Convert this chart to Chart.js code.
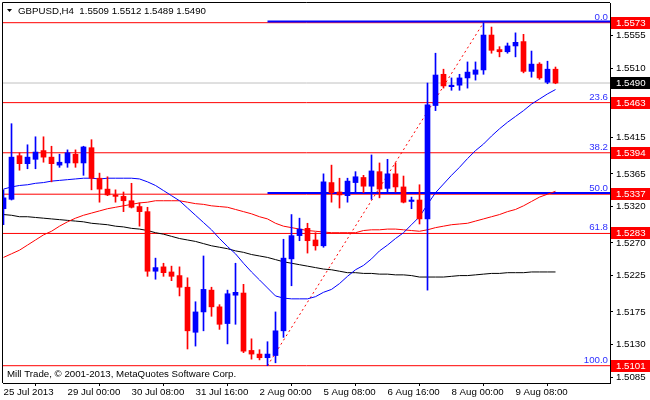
<!DOCTYPE html>
<html><head><meta charset="utf-8">
<script src="https://cdn.jsdelivr.net/npm/chart.js@4/dist/chart.umd.min.js"></script>
<style>html,body{margin:0;padding:0;background:#fff}#wrap{width:650px;height:400px;position:relative}</style>
</head><body><div id="wrap"><canvas id="c"></canvas></div>
<script>
// ---- data (GBPUSD, H4) ----
const barTimes = [
 '25 Jul 16:00','25 Jul 20:00',
 '26 Jul 00:00','26 Jul 04:00','26 Jul 08:00','26 Jul 12:00','26 Jul 16:00','26 Jul 20:00',
 '29 Jul 00:00','29 Jul 04:00','29 Jul 08:00','29 Jul 12:00','29 Jul 16:00','29 Jul 20:00',
 '30 Jul 00:00','30 Jul 04:00','30 Jul 08:00','30 Jul 12:00','30 Jul 16:00','30 Jul 20:00',
 '31 Jul 00:00','31 Jul 04:00','31 Jul 08:00','31 Jul 12:00','31 Jul 16:00','31 Jul 20:00',
 '1 Aug 00:00','1 Aug 04:00','1 Aug 08:00','1 Aug 12:00','1 Aug 16:00','1 Aug 20:00',
 '2 Aug 00:00','2 Aug 04:00','2 Aug 08:00','2 Aug 12:00','2 Aug 16:00','2 Aug 20:00',
 '5 Aug 00:00','5 Aug 04:00','5 Aug 08:00','5 Aug 12:00','5 Aug 16:00','5 Aug 20:00',
 '6 Aug 00:00','6 Aug 04:00','6 Aug 08:00','6 Aug 12:00','6 Aug 16:00','6 Aug 20:00',
 '7 Aug 00:00','7 Aug 04:00','7 Aug 08:00','7 Aug 12:00','7 Aug 16:00','7 Aug 20:00',
 '8 Aug 00:00','8 Aug 04:00','8 Aug 08:00','8 Aug 12:00','8 Aug 16:00','8 Aug 20:00',
 '9 Aug 00:00','9 Aug 04:00','9 Aug 08:00','9 Aug 12:00','9 Aug 16:00','9 Aug 20:00',
 '12 Aug 00:00','12 Aug 04:00'];

const openP = [1.5317,1.5330,1.5390,1.5379,1.5385,1.5397,1.5388,1.5377,1.5380,1.5392,
 1.5380,1.5401,1.5359,1.5344,1.5336,1.5334,1.5328,1.5320,1.5313,1.5231,
 1.5237,1.5230,1.5225,1.5209,1.5147,1.5175,1.5205,1.5182,1.5159,1.5198,
 1.5201,1.5122,1.5117,1.5112,1.5115,1.5149,1.5248,1.5280,1.5290,1.5274,
 1.5266,1.5353,1.5340,1.5335,1.5353,1.5360,1.5348,1.5368,1.5345,1.5365,
 1.5347,1.5327,1.5329,1.5303,1.5459,1.5502,1.5485,1.5487,1.5497,1.5502,
 1.5508,1.5556,1.5536,1.5533,1.5541,1.5547,1.5506,1.5516,1.5491,1.5509];
const highP = [1.5343,1.5434,1.5394,1.5405,1.5416,1.5416,1.5403,1.5392,1.5398,1.5398,
 1.5403,1.5412,1.5366,1.5361,1.5343,1.5340,1.5352,1.5325,1.5319,1.5249,
 1.5242,1.5238,1.5237,1.5222,1.5189,1.5252,1.5209,1.5185,1.5205,1.5242,
 1.5213,1.5138,1.5123,1.5134,1.5175,1.5275,1.5309,1.5304,1.5297,1.5284,
 1.5365,1.5377,1.5359,1.5359,1.5368,1.5363,1.5391,1.5380,1.5385,1.5380,
 1.5362,1.5333,1.5350,1.5490,1.5531,1.5509,1.5497,1.5502,1.5519,1.5519,
 1.5573,1.5567,1.5540,1.5545,1.5559,1.5557,1.5534,1.5518,1.5520,1.5512];
const lowP = [1.5295,1.5329,1.5370,1.5372,1.5372,1.5381,1.5354,1.5374,1.5374,1.5374,
 1.5363,1.5343,1.5326,1.5335,1.5326,1.5313,1.5318,1.5293,1.5224,1.5220,
 1.5224,1.5218,1.5197,1.5124,1.5128,1.5149,1.5169,1.5151,1.5131,1.5158,
 1.5119,1.5110,1.5109,1.5101,1.5105,1.5140,1.5211,1.5273,1.5256,1.5260,
 1.5264,1.5326,1.5318,1.5326,1.5340,1.5339,1.5330,1.5332,1.5340,1.5340,
 1.5325,1.5317,1.5296,1.5205,1.5452,1.5483,1.5480,1.5480,1.5483,1.5494,
 1.5502,1.5531,1.5526,1.5531,1.5526,1.5504,1.5498,1.5495,1.5489,1.5489];
const closeP = [1.5332,1.5388,1.5379,1.5388,1.5395,1.5388,1.5379,1.5381,1.5394,1.5380,
 1.5402,1.5359,1.5344,1.5336,1.5334,1.5328,1.5319,1.5313,1.5231,1.5236,
 1.5229,1.5224,1.5209,1.5149,1.5175,1.5206,1.5182,1.5158,1.5200,1.5202,
 1.5121,1.5117,1.5112,1.5117,1.5149,1.5249,1.5280,1.5289,1.5273,1.5266,
 1.5354,1.5339,1.5336,1.5355,1.5361,1.5348,1.5369,1.5344,1.5365,1.5347,
 1.5326,1.5329,1.5303,1.5460,1.5501,1.5486,1.5487,1.5497,1.5505,1.5508,
 1.5556,1.5535,1.5533,1.5541,1.5546,1.5506,1.5516,1.5497,1.5509,1.5490];

const maBlue = [1.5344,1.5347,1.5349,1.5350,1.5352,1.5353,1.5355,1.5356,1.5357,1.5358,
 1.5359,1.5359,1.5358,1.5359,1.5359,1.5359,1.5359,1.5358,1.5354,1.5349,
 1.5342,1.5335,1.5328,1.5318,1.5308,1.5298,1.5288,1.5276,1.5265,1.5255,
 1.5242,1.5230,1.5219,1.5208,1.5197,1.5194,1.5193,1.5193,1.5193,1.5196,
 1.5202,1.5206,1.5214,1.5224,1.5233,1.5239,1.5248,1.5259,1.5267,1.5276,
 1.5284,1.5295,1.5306,1.5323,1.5339,1.5351,1.5363,1.5374,1.5386,1.5397,
 1.5406,1.5417,1.5427,1.5436,1.5444,1.5452,1.5461,1.5468,1.5475,1.5481];
const maRed = [1.5250,1.5255,1.5260,1.5267,1.5274,1.5281,1.5286,1.5293,1.5299,1.5304,
 1.5308,1.5311,1.5314,1.5317,1.5319,1.5321,1.5323,1.5325,1.5326,1.5328,
 1.5328,1.5328,1.5328,1.5326,1.5324,1.5323,1.5321,1.5320,1.5319,1.5316,
 1.5313,1.5310,1.5306,1.5303,1.5297,1.5293,1.5291,1.5289,1.5287,1.5286,
 1.5285,1.5284,1.5284,1.5284,1.5284,1.5287,1.5288,1.5288,1.5289,1.5289,
 1.5288,1.5287,1.5286,1.5288,1.5291,1.5293,1.5295,1.5296,1.5297,1.5300,
 1.5303,1.5306,1.5309,1.5313,1.5316,1.5321,1.5327,1.5333,1.5337,1.5341];
const maBlack = [1.5309,1.5308,1.5306,1.5306,1.5305,1.5304,1.5303,1.5302,1.5301,1.5300,
 1.5299,1.5297,1.5296,1.5295,1.5293,1.5292,1.5290,1.5289,1.5287,1.5284,
 1.5282,1.5279,1.5276,1.5274,1.5272,1.5269,1.5266,1.5264,1.5262,1.5259,
 1.5257,1.5254,1.5252,1.5250,1.5247,1.5244,1.5242,1.5240,1.5238,1.5236,
 1.5234,1.5233,1.5231,1.5229,1.5229,1.5228,1.5228,1.5227,1.5227,1.5226,
 1.5226,1.5225,1.5223,1.5223,1.5223,1.5223,1.5224,1.5225,1.5225,1.5226,
 1.5227,1.5228,1.5228,1.5229,1.5229,1.5229,1.5230,1.5230,1.5230,1.5230];

const levelPrices = [1.5573,1.5463,1.5394,1.5337,1.5283,1.5101];
const fibLabels   = ['0.0','23.6','38.2','50.0','61.8','100.0'];
const fibBlueLevels = [1.55745,1.53385];
const fibStartBar = 33, fibEndBar = 60;
const fibLow = 1.5101, fibHigh = 1.5573;
const currentPrice = 1.5490;

const xTickIndex = [0,8,16,24,32,40,48,56,64];
const xTickText = ['25 Jul 2013','29 Jul 00:00','30 Jul 08:00','31 Jul 16:00','2 Aug 00:00','5 Aug 08:00','6 Aug 16:00','8 Aug 00:00','9 Aug 08:00'];
const yTickValues = [1.5085,1.5130,1.5175,1.5225,1.5270,1.5320,1.5365,1.5415,1.5465,1.5510,1.5555];

const titleText = 'GBPUSD,H4  1.5509 1.5512 1.5489 1.5490';
const footerText = 'Mill Trade, \u00A9 2001-2013, MetaQuotes Software Corp.';

// ---- axis range ----
const xMin = -0.0625, xMax = 75.8125;
const yMin = 1.50772, yMax = 1.56001;

const FONT = 'Liberation Sans';
const FS = 9.7;
const BULL = '#0000ff', BEAR = '#ff0000';
const candleColors = closeP.map((c,i) => c >= openP[i] ? BULL : BEAR);

function hline(p, x0, x1, color, w, order) {
  return { type:'line', data:[{x:x0,y:p},{x:x1,y:p}], borderColor:color, borderWidth:w,
           pointRadius:0, order:order, fill:false };
}

const datasets = [];
datasets.push({ type:'bar', data: barTimes.map((t,i)=>({x:i, y:[lowP[i], highP[i]]})),
  backgroundColor:candleColors, barThickness:1, grouped:false, order:2, borderWidth:0 });
datasets.push({ type:'bar', data: barTimes.map((t,i)=>({x:i, y:[openP[i], closeP[i]]})),
  backgroundColor:candleColors, barThickness:5, grouped:false, order:1, borderWidth:0, minBarLength:1 });
[[maBlue,'#0000ff'],[maRed,'#ff0000'],[maBlack,'#000000']].forEach(([arr,col])=>{
  datasets.push({ type:'line', data: arr.map((v,i)=>({x:i,y:v})), borderColor:col, borderWidth:1,
    pointRadius:0, tension:0, order:3, fill:false });
});
datasets.push(hline(currentPrice, xMin, xMax, '#c0c0c0', 1, 7));
levelPrices.forEach(p => datasets.push(hline(p, xMin, xMax, '#ff0000', 1, 6)));
fibBlueLevels.forEach(p => datasets.push(hline(p, fibStartBar, xMax, '#0000ff', 2, 5)));
datasets.push({ type:'line', data:[{x:fibStartBar,y:fibLow},{x:fibEndBar,y:fibHigh}], borderColor:'#ff0000',
  borderWidth:1, borderDash:[2,3], pointRadius:0, order:4, fill:false });

const overlay = {
  id:'overlay',
  afterDraw(chart){
    const {ctx, chartArea:a, scales:{y}} = chart;
    ctx.save();
    ctx.strokeStyle = '#000'; ctx.lineWidth = 1;
    ctx.beginPath();
    ctx.moveTo(a.left - 0.5, a.bottom); ctx.lineTo(a.left - 0.5, a.top - 0.5); ctx.lineTo(a.right, a.top - 0.5);
    ctx.stroke();
    ctx.font = FS + 'px "' + FONT + '"';
    ctx.fillStyle = '#3030ff'; ctx.textAlign = 'right'; ctx.textBaseline = 'alphabetic';
    levelPrices.forEach((p,i)=>{
      ctx.fillText(fibLabels[i], a.right - 2, y.getPixelForValue(p) - 3);
    });
    ctx.textAlign = 'left'; ctx.textBaseline = 'middle';
    const boxes = levelPrices.map(p=>[p,'#ff0000']).concat([[currentPrice,'#000000']]);
    boxes.forEach(([p,col])=>{
      const py = Math.round(y.getPixelForValue(p));
      ctx.fillStyle = col;
      ctx.fillRect(a.right + 1, py - 6, chart.width - a.right - 1, 12);
      ctx.fillStyle = '#ffffff';
      ctx.fillText(p.toFixed(4), a.right + 6, py + 0.5);
    });
    ctx.fillStyle = '#000';
    ctx.beginPath(); ctx.moveTo(7,9); ctx.lineTo(12,9); ctx.lineTo(9.5,12); ctx.closePath(); ctx.fill();
    ctx.fillText(titleText, 18, 11);
    ctx.fillText(footerText, 7, 374.5);
    ctx.restore();
  }
};

function noPad(s){ s.paddingTop = 0; s.paddingBottom = 0; s.paddingLeft = 0; s.paddingRight = 0; }

new Chart(document.getElementById('c'), {
  type:'bar',
  data:{ datasets },
  plugins:[overlay],
  options:{
    responsive:true, maintainAspectRatio:false, animation:false,
    layout:{ padding:{ left:3, top:3, right:0, bottom:0 } },
    plugins:{ legend:{display:false}, tooltip:{enabled:false} },
    scales:{
      x:{ type:'linear', min:xMin, max:xMax, offset:false,
        afterBuildTicks: s => { s.ticks = xTickIndex.map(v=>({value:v})); },
        afterFit: s => { s.height = 17; noPad(s); },
        grid:{ drawOnChartArea:false, tickLength:3, tickColor:'#000', color:'#000' },
        border:{ display:true, color:'#000', width:1 },
        ticks:{ autoSkip:false, maxRotation:0, minRotation:0, align:'start', padding:1, color:'#000',
          font:{ family:FONT, size:FS }, callback:(v,i)=> xTickText[i] }
      },
      y:{ type:'linear', position:'right', min:yMin, max:yMax,
        afterBuildTicks: s => { s.ticks = yTickValues.map(v=>({value:v})); },
        afterFit: s => { s.width = 40; noPad(s); },
        grid:{ drawOnChartArea:false, tickLength:3, tickColor:'#000', color:'#000' },
        border:{ display:true, color:'#000', width:1 },
        ticks:{ color:'#000', padding:3, font:{ family:FONT, size:FS }, callback:v => Number(v).toFixed(4) }
      }
    }
  }
});
</script></body></html>
